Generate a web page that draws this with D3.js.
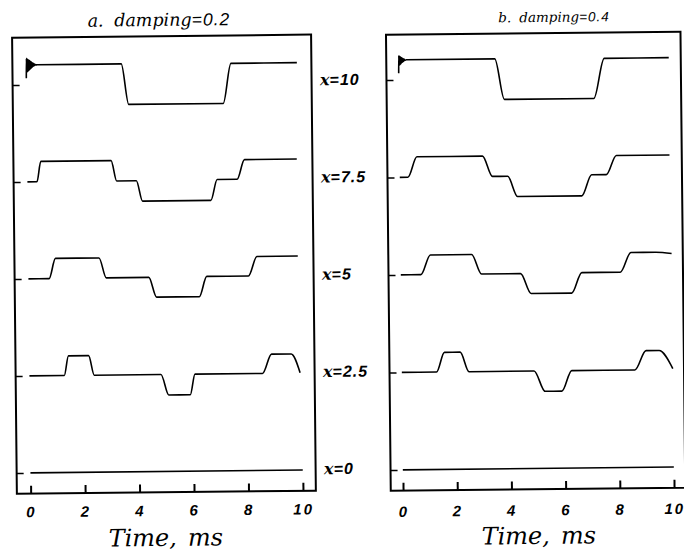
<!DOCTYPE html>
<html><head><meta charset="utf-8">
<script src="https://cdn.jsdelivr.net/npm/d3@7"></script>
<style>
body{margin:0;background:#fff;}
svg{display:block;}
</style></head><body>
<svg id="chart" width="684" height="551"></svg>
<script>
// Stations along the string where displacement is recorded
const positions = [0, 2.5, 5, 7.5, 10];
const positionLabels = ["0", "2.5", "5", "7.5", "10"];
const timeTicks = [0, 2, 4, 6, 8, 10];
const panelLetters = ["a.", "b."];
const dampings = ["0.2", "0.4"];

// Displacement histories [time (ms), displacement], damping = 0.2
const a_x0  = [[0,0],[10,0]];
const a_x25 = [[0,0],[1.28,0],[1.44,0.98],[2.18,0.98],[2.38,0],[4.83,0],[5.11,-1.03],[5.9,-1.03],[6.08,0],[8.56,0],[8.9,0.96],[9.62,0.96],[9.94,0.02]];
const a_x5  = [[0,0],[0.76,0],[1.0,1.01],[2.6,1.01],[2.86,0.01],[4.42,0.01],[4.7,-0.98],[6.27,-0.98],[6.55,0.03],[8.08,0.03],[8.4,1.0],[9.9,1.0]];
const a_x75 = [[0,0],[0.35,0],[0.5,1.02],[3.08,1.02],[3.28,0],[4.0,0],[4.22,-1.02],[6.73,-1.02],[6.97,0.02],[7.7,0.02],[7.98,1.0],[9.9,1.0]];
const a_x10 = [[0,0.33],[0.01,1.33],[0.02,0.62],[0.035,1.3],[0.05,0.66],[0.065,1.27],[0.08,0.7],[0.095,1.24],[0.11,0.74],[0.125,1.21],[0.14,0.78],[0.155,1.18],[0.17,0.82],[0.185,1.15],[0.2,0.86],[0.215,1.12],[0.23,0.9],[0.245,1.09],[0.26,0.93],[0.28,1.06],[0.3,0.96],[0.32,1.03],[0.35,0.99],[0.4,1.0],[3.49,1.0],[3.75,-1.03],[7.22,-1.03],[7.52,0.97],[9.94,0.97]];

// Displacement histories [time (ms), displacement], damping = 0.4
const b_x0  = [[0,0],[10,0]];
const b_x25 = [[0,0],[1.28,0],[1.58,0.98],[2.16,0.98],[2.48,0],[4.88,0],[5.28,-1.02],[5.9,-1.02],[6.27,0],[8.6,0],[9.02,0.96],[9.5,0.96],[10.0,0.05]];
const b_x5  = [[0,0],[0.74,0],[1.1,0.98],[2.62,0.98],[2.98,0],[4.42,0],[4.8,-1.0],[6.3,-1.0],[6.68,0.02],[8.1,0.02],[8.5,1.0],[9.4,1.0],[10.0,0.93]];
const b_x75 = [[0,0],[0.3,0],[0.64,1.02],[3.06,1.02],[3.42,0],[3.98,0],[4.34,-1.02],[6.71,-1.02],[7.08,0.03],[7.62,0.03],[8.0,0.98],[9.96,0.98]];
const b_x10 = [[0,0.33],[0.01,1.21],[0.02,0.72],[0.035,1.18],[0.05,0.76],[0.065,1.15],[0.08,0.8],[0.095,1.12],[0.11,0.84],[0.125,1.1],[0.14,0.88],[0.16,1.07],[0.18,0.92],[0.2,1.04],[0.23,0.97],[0.28,1.0],[3.55,1.0],[3.89,-1.03],[7.19,-1.03],[7.59,0.97],[9.97,0.97]];

const panelTraces = [
  [a_x0, a_x25, a_x5, a_x75, a_x10],
  [b_x0, b_x25, b_x5, b_x75, b_x10]
];

const layouts = [
  {left:14.6, right:313.6, top:34.3, bottom:490.4, t0:28.4, t10:300.7, y0:469.6, y10:81.6, tickBase:514, titleX:161.6, titleSize:17.5, timeX:163, timeY:544},
  {left:388.5, right:683, top:35.3, bottom:491.3, t0:400.8, t10:671.8, y0:470.5, y10:80.5, tickBase:517.5, titleX:556.7, titleSize:13.5, timeX:536, timeY:546}
];

const serif = "'DejaVu Serif', serif";
const sans = "'Liberation Sans', Arial, sans-serif";

const svg = d3.select("#chart");
svg.append("rect").attr("width", 684).attr("height", 551).attr("fill", "#fff");
const root = svg.append("g").attr("transform", "rotate(-0.6 342 275)");

// vertical scale for displacement, in pixels per unit
const amp = d3.scaleLinear().domain([0, 1]).range([0, -20]);

const yScales = [];

layouts.forEach((L, i) => {
  const g = root.append("g");
  const x = d3.scaleLinear().domain([0, 10]).range([L.t0, L.t10]);
  const y = d3.scaleLinear().domain([0, 10]).range([L.y0, L.y10]);
  yScales.push(y);

  // frame
  g.append("rect")
    .attr("x", L.left).attr("y", L.top)
    .attr("width", L.right - L.left).attr("height", L.bottom - L.top)
    .attr("fill", "none").attr("stroke", "#000").attr("stroke-width", 2);

  // time axis, ticks pointing inward
  const xa = g.append("g").attr("transform", `translate(0,${L.bottom})`)
    .call(d3.axisBottom(x).tickValues(timeTicks).tickSize(-8).tickFormat(d3.format("d")));
  xa.select(".domain").remove();
  xa.selectAll(".tick line").attr("stroke", "#000").attr("stroke-width", 2);
  xa.selectAll(".tick text")
    .attr("y", L.tickBase - L.bottom).attr("dy", 0)
    .attr("fill", "#000")
    .style("font-family", sans).style("font-size", "15px")
    .style("font-style", "italic").style("font-weight", "bold")
    .style("letter-spacing", "2px");

  // station ticks on the left frame
  const ya = g.append("g").attr("transform", `translate(${L.left},0)`)
    .call(d3.axisLeft(y).tickValues(positions).tickSize(-7).tickFormat(""));
  ya.select(".domain").remove();
  ya.selectAll(".tick line").attr("stroke", "#000").attr("stroke-width", 1.5);

  // traces
  panelTraces[i].forEach((tr, k) => {
    const base = y(positions[k]);
    const line = d3.line()
      .x(d => x(d[0]))
      .y(d => base + amp(d[1]))
      .curve(d3.curveMonotoneX);
    g.append("path").datum(tr)
      .attr("d", line)
      .attr("fill", "none").attr("stroke", "#000")
      .attr("stroke-width", 1.6).attr("stroke-linejoin", "round");
  });

  // panel title
  const t = g.append("text")
    .attr("x", L.titleX).attr("y", 24)
    .attr("text-anchor", "middle")
    .style("font-family", serif).style("font-style", "italic").style("font-size", L.titleSize + "px");
  t.append("tspan").text(panelLetters[i]);
  t.append("tspan").attr("dx", L.titleSize * 0.6).text("damping");
  t.append("tspan").style("font-family", sans).style("letter-spacing", "1px").text("=" + dampings[i]);

  // time axis title
  const tt = g.append("text")
    .attr("x", L.timeX).attr("y", L.timeY)
    .attr("text-anchor", "middle")
    .style("font-family", serif).style("font-style", "italic").style("font-size", "24px");
  tt.append("tspan").text("Time,");
  tt.append("tspan").attr("dx", 11).text("ms");
});

// station labels between the panels
positions.forEach((p, k) => {
  const yy = (yScales[0](p) + yScales[1](p)) / 2 + 4;
  const t = root.append("text")
    .attr("x", 322).attr("y", yy)
    .style("font-size", "16px").style("font-style", "italic");
  t.append("tspan").style("font-family", serif).style("font-weight", "bold").text("x");
  t.append("tspan").style("font-family", sans).style("font-weight", "bold")
    .style("letter-spacing", "1px").text("=" + positionLabels[k]);
});
</script>
</body></html>
